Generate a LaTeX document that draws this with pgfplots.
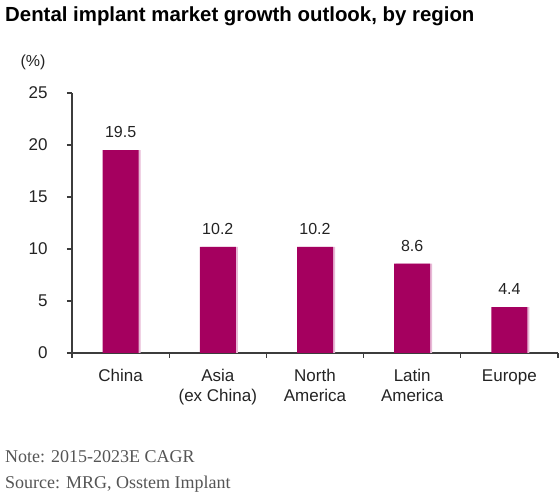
\documentclass[border=0pt]{standalone}
\usepackage{fontspec}
\setmainfont{Liberation Sans}
\newfontfamily\notefont{Liberation Serif}
\usepackage{pgfplots}
\pgfplotsset{compat=1.18}
\definecolor{barred}{RGB}{165,0,95}
\definecolor{barshade}{RGB}{232,185,214}
\definecolor{axgray}{RGB}{60,60,60}
\definecolor{txtgray}{RGB}{35,35,35}
\definecolor{notegray}{RGB}{85,85,85}

\begin{document}
\begin{tikzpicture}[x=1pt,y=1pt]
  \path (0,0) rectangle (560,498);
  % title and unit
  \node[anchor=base west, inner sep=0pt, font=\bfseries\fontsize{20.4}{24}\selectfont, text=black]
    at (5,476) {Dental implant market growth outlook, by region};
  \node[inner sep=0pt, font=\fontsize{16}{19}\selectfont, text=txtgray] at (33,436) {(\%)};

  \begin{axis}[
      at={(72pt,145pt)}, anchor=south west,
      scale only axis,
      width=486pt, height=260pt,
      xmin=-0.5, xmax=4.5,
      ymin=0, ymax=25,
      ytick={0,5,...,25},
      xtick={0,1,2,3,4},
      xticklabels={China, Asia\\(ex China), North\\America, Latin\\America, Europe},
      minor xtick={-0.5,0.5,1.5,2.5,3.5,4.5},
      major x tick style={draw=none},
      axis x line=bottom, axis y line=left,
      axis line style={-, axgray, line width=1.4pt},
      tick style={axgray, line width=1.2pt},
      tick align=outside,
      major tick length=5pt, minor tick length=5pt,
      xticklabel style={align=center, font=\fontsize{17}{20}\selectfont, text=txtgray, yshift=-8pt},
      yticklabel style={font=\fontsize{17}{20}\selectfont, text=txtgray, xshift=-16pt},
      /pgf/number format/assume math mode=true,
      ybar, bar width=36pt,
      clip=false,
    ]
    % light shade on the right edge of each bar
    \addplot[fill=barshade, draw=none, bar shift=2pt] coordinates {
      (0,19.5) (1,10.2) (2,10.2) (3,8.6) (4,4.4)
    };
    \addplot[fill=barred, draw=none, bar shift=0pt,
      nodes near coords,
      every node near coord/.append style={anchor=center, yshift=18pt,
        font=\fontsize{16}{19}\selectfont, text=txtgray},
      /pgf/number format/.cd, fixed, fixed zerofill, precision=1
      ] coordinates {
      (0,19.5) (1,10.2) (2,10.2) (3,8.6) (4,4.4)
    };
  \end{axis}

  % note and source
  \node[anchor=base west, inner sep=0pt, font=\notefont\fontsize{18}{21}\selectfont, text=notegray]
    at (5,35) {Note: 2015-2023E CAGR};
  \node[anchor=base west, inner sep=0pt, font=\notefont\fontsize{18}{21}\selectfont, text=notegray]
    at (5,9) {Source: MRG, Osstem Implant};
\end{tikzpicture}
\end{document}
